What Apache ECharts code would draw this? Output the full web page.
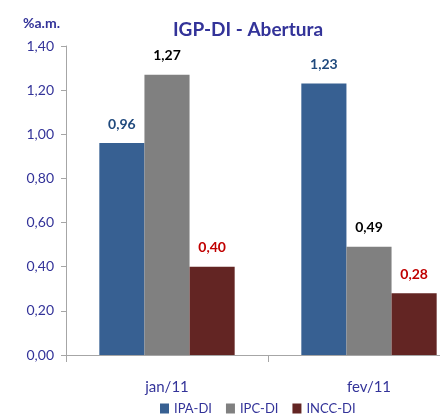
<!DOCTYPE html>
<html><head><meta charset="utf-8">
<script src="https://cdn.jsdelivr.net/npm/echarts@6/dist/echarts.min.js"></script>
<style>html,body{margin:0;padding:0;background:#fff;overflow:hidden}#c{width:470px;height:417px}</style>
</head><body><div id="c"></div>
<script>
const categories = ['jan/11', 'fev/11'];
const seriesNames = ['IPA-DI', 'IPC-DI', 'INCC-DI'];
const ipa = [0.96, 1.23];
const ipc = [1.27, 0.49];
const incc = [0.40, 0.28];
const yTicks = [0, 0.2, 0.4, 0.6, 0.8, 1.0, 1.2, 1.4];

const colors = ['#376092', '#808080', '#632523'];
const labelColors = ['#1F497D', '#000000', '#C00000'];
const font = 'Lato, "Liberation Sans", sans-serif';
const fmt = v => v.toFixed(2).replace('.', ',');

const chart = echarts.init(document.getElementById('c'), null, {renderer: 'canvas'});
const data = [ipa, ipc, incc];
chart.setOption({
  animation: false,
  title: [{
    text: 'IGP-DI - Abertura', left: 243, top: 15, textAlign: 'center',
    textStyle: {color: '#333399', fontSize: 19, fontWeight: 'bold', fontFamily: font}
  }, {
    text: '%a.m.', left: 18, top: 11,
    textStyle: {color: '#333399', fontSize: 14, fontWeight: 'bold', fontFamily: font}
  }],
  legend: {
    data: seriesNames, top: 397, left: 155, itemWidth: 9, itemHeight: 10, itemGap: 14,
    icon: 'rect', textStyle: {color: '#333399', fontSize: 13, fontFamily: font}
  },
  grid: {left: 66, top: 46, right: 0, bottom: 62},
  xAxis: {
    type: 'category', data: categories,
    axisLine: {lineStyle: {color: '#A6A6A6'}},
    axisTick: {show: true, length: 7, lineStyle: {color: '#A6A6A6'}},
    axisLabel: {color: '#333399', fontSize: 15, margin: 25, fontFamily: font}
  },
  yAxis: {
    type: 'value', min: 0, max: 1.4, interval: 0.2,
    splitLine: {show: false},
    axisLine: {show: true, lineStyle: {color: '#A6A6A6'}},
    axisTick: {show: true, length: 5, lineStyle: {color: '#A6A6A6'}},
    axisLabel: {color: '#333399', fontSize: 14, margin: 12, fontFamily: font, formatter: v => fmt(v)}
  },
  series: seriesNames.map((n, i) => ({
    name: n, type: 'bar', data: data[i], barGap: '0%', barCategoryGap: '33%',
    itemStyle: {color: colors[i]},
    label: {show: true, position: 'top', distance: 12, formatter: p => fmt(p.value),
      color: labelColors[i], fontWeight: 'bold', fontSize: 14, fontFamily: font}
  }))
});
</script></body></html>
